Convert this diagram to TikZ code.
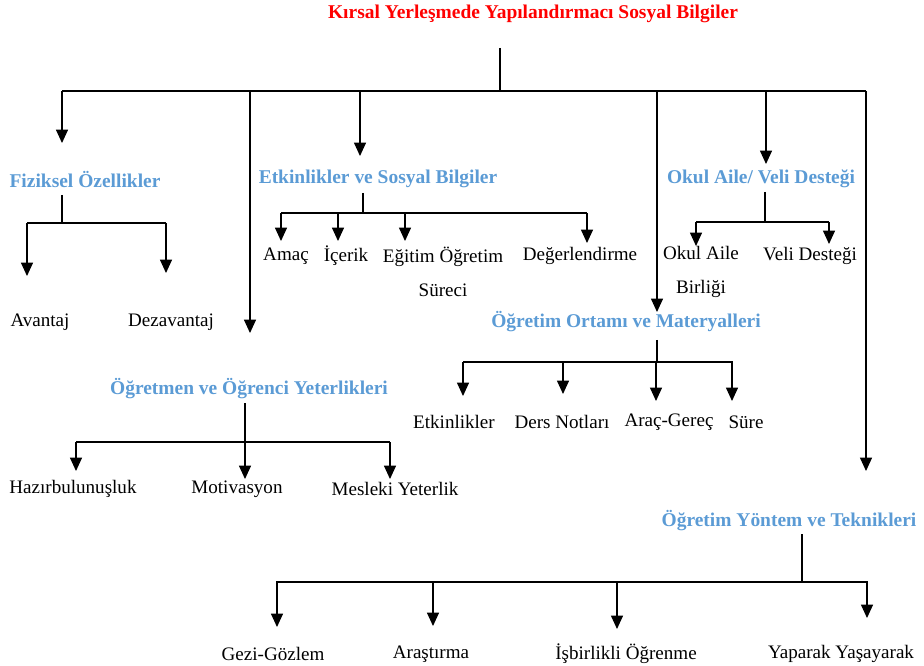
\documentclass[tikz,border=0pt]{standalone}
\usepackage{fontspec}
\setmainfont{Liberation Serif}
\usetikzlibrary{arrows.meta}

\definecolor{titlered}{RGB}{255,0,0}
\definecolor{headblue}{RGB}{91,155,213}

\tikzset{
  maintitle/.style={font=\fontsize{14.6}{17}\selectfont\bfseries, text=titlered, inner sep=1pt},
  head/.style={font=\fontsize{14.6}{17}\selectfont\bfseries, text=headblue, inner sep=1pt},
  leaf/.style={font=\fontsize{14.3}{25}\selectfont, inner sep=1pt, align=center},
  link/.style={line width=0.8pt},
  arr/.style={link, -{Triangle[width=9pt,length=10pt]}},
}

\begin{document}
\begin{tikzpicture}[x=0.75pt,y=-0.75pt]
  \useasboundingbox (0,0) rectangle (924,666);

  %% title and main bar
  \node[maintitle] (root) at (533,14) {Kırsal Yerleşmede Yapılandırmacı Sosyal Bilgiler};
  \coordinate (rootS) at (500,48);
  \coordinate (rootJ) at (500,91);
  \coordinate (barL) at (62,91);
  \coordinate (barR) at (866,91);
  \draw[link] (rootS) -- (rootJ);
  \draw[link] (barL) -- (barR);

  %% headings
  \node[head] (fiz)   at (85,179)  {Fiziksel Özellikler};
  \node[head] (ogr)   at (249,389) {Öğretmen ve Öğrenci Yeterlikleri};
  \node[head] (etk)   at (378,179) {Etkinlikler ve Sosyal Bilgiler};
  \node[head] (ortam) at (626,322) {Öğretim Ortamı ve Materyalleri};
  \node[head] (okul)  at (761,179) {Okul Aile/ Veli Desteği};
  \node[head] (yon)   at (789,521) {Öğretim Yöntem ve Teknikleri};

  %% arrow tips under the main bar
  \coordinate (fizT)   at (62,143);
  \coordinate (ogrT)   at (250,333);
  \coordinate (etkT)   at (360,156);
  \coordinate (ortamT) at (657,312);
  \coordinate (okulT)  at (766,164);
  \coordinate (yonT)   at (866,471);
  \foreach \t in {fizT,ogrT,etkT,ortamT,okulT,yonT}
    \draw[arr] (rootJ -| \t) -- (\t);

  %% Fiziksel Ozellikler
  \node[leaf] (avantaj) at (40,322)  {Avantaj};
  \node[leaf] (dezav)   at (171,322) {Dezavantaj};
  \coordinate (fizS) at (62,195);
  \coordinate (fizJ) at (62,223);
  \coordinate (fizL) at (27,223);
  \coordinate (fizR) at (166,223);
  \coordinate (fa) at (27,276);
  \coordinate (fb) at (166,273);
  \draw[link] (fizS) -- (fizJ);
  \draw[link] (fizL) -- (fizR);
  \foreach \t in {fa,fb}
    \draw[arr] (fizJ -| \t) -- (\t);

  %% Etkinlikler ve Sosyal Bilgiler
  \node[leaf] (amac)   at (286,256) {Amaç};
  \node[leaf] (icerik) at (346,256) {İçerik};
  \node[leaf] (surec)  at (443,272) {Eğitim Öğretim\\Süreci};
  \node[leaf] (deger)  at (580,256) {Değerlendirme};
  \coordinate (etkS) at (363,193);
  \coordinate (etkJ) at (363,213);
  \coordinate (etkL) at (281,213);
  \coordinate (etkR) at (587,213);
  \coordinate (ea) at (281,241);
  \coordinate (eb) at (338,241);
  \coordinate (ec) at (405,241);
  \coordinate (ed) at (587,243);
  \draw[link] (etkS) -- (etkJ);
  \draw[link] (etkL) -- (etkR);
  \foreach \t in {ea,eb,ec,ed}
    \draw[arr] (etkJ -| \t) -- (\t);

  %% Okul Aile / Veli Destegi
  \node[leaf] (birlik) at (701,272) {Okul Aile\\Birliği};
  \node[leaf] (veli)   at (810,256) {Veli Desteği};
  \coordinate (okulS) at (765,192);
  \coordinate (okulJ) at (765,222);
  \coordinate (okulL) at (696,222);
  \coordinate (okulR) at (829,222);
  \coordinate (oa) at (696,246);
  \coordinate (ob) at (829,244);
  \draw[link] (okulS) -- (okulJ);
  \draw[link] (okulL) -- (okulR);
  \foreach \t in {oa,ob}
    \draw[arr] (okulJ -| \t) -- (\t);

  %% Ogretim Ortami ve Materyalleri
  \node[leaf] (etkinlik) at (454,422) {Etkinlikler};
  \node[leaf] (notlar)   at (562,422) {Ders Notları};
  \node[leaf] (arac)     at (669,422) {Araç-Gereç};
  \node[leaf] (sure)     at (746,422) {Süre};
  \coordinate (ortamS) at (657,340);
  \coordinate (ortamJ) at (657,362);
  \coordinate (ortamL) at (463,362);
  \coordinate (ortamR) at (733,362);
  \coordinate (ma) at (463,396);
  \coordinate (mb) at (563,394);
  \coordinate (mc) at (656,401);
  \coordinate (md) at (732,401);
  \draw[link] (ortamS) -- (ortamJ);
  \draw[link] (ortamL) -- (ortamR);
  \foreach \t in {ma,mb,mc,md}
    \draw[arr] (ortamJ -| \t) -- (\t);

  %% Ogretmen ve Ogrenci Yeterlikleri
  \node[leaf] (hazir)   at (73,489)  {Hazırbulunuşluk};
  \node[leaf] (motiv)   at (237,489) {Motivasyon};
  \node[leaf] (mesleki) at (395,489) {Mesleki Yeterlik};
  \coordinate (ogrS) at (245,403);
  \coordinate (ogrJ) at (245,442);
  \coordinate (ogrL) at (76,442);
  \coordinate (ogrR) at (390,442);
  \coordinate (ya) at (76,471);
  \coordinate (yb) at (245,479);
  \coordinate (yc) at (390,479);
  \draw[link] (ogrS) -- (ogrJ);
  \draw[link] (ogrL) -- (ogrR);
  \foreach \t in {ya,yb,yc}
    \draw[arr] (ogrJ -| \t) -- (\t);

  %% Ogretim Yontem ve Teknikleri
  \node[leaf] (gezi)     at (273,654) {Gezi-Gözlem};
  \node[leaf] (arastir)  at (431,654) {Araştırma};
  \node[leaf] (isbirlik) at (626,654) {İşbirlikli Öğrenme};
  \node[leaf] (yaparak)  at (841,654) {Yaparak Yaşayarak};
  \coordinate (yonS) at (802,534);
  \coordinate (yonJ) at (802,582);
  \coordinate (yonL) at (276,582);
  \coordinate (yonR) at (868,582);
  \coordinate (ta) at (277,627);
  \coordinate (tb) at (433,626);
  \coordinate (tc) at (617,629);
  \coordinate (td) at (867,618);
  \draw[link] (yonS) -- (yonJ);
  \draw[link] (yonL) -- (yonR);
  \foreach \t in {ta,tb,tc,td}
    \draw[arr] (yonJ -| \t) -- (\t);
\end{tikzpicture}
\end{document}
